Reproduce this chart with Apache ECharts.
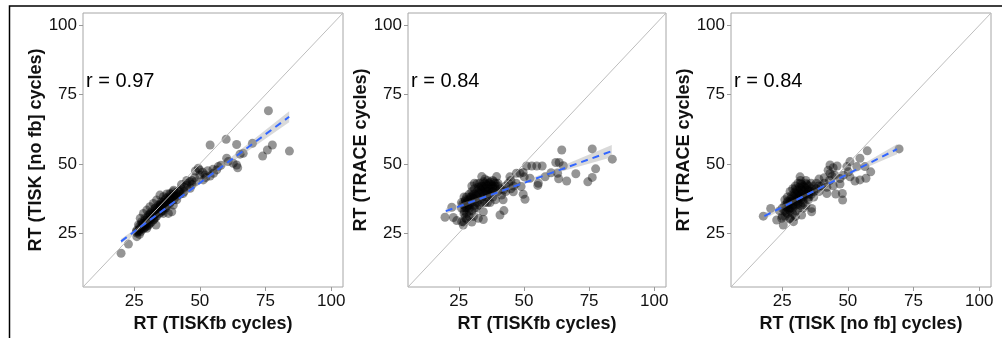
<!DOCTYPE html>
<html><head><meta charset="utf-8">
<script src="https://cdn.jsdelivr.net/npm/echarts@6/dist/echarts.min.js"></script>
<style>html,body{margin:0;padding:0;background:#fff}#c{width:1002px;height:338px}</style>
</head><body><div id="c"></div>
<script>
// ---- data ----
const axisRange = [5.5, 104.5];
const tickValues = [25, 50, 75, 100];
const xTitles = ['RT (TISKfb cycles)', 'RT (TISKfb cycles)', 'RT (TISK [no fb] cycles)'];
const yTitles = ['RT (TISK [no fb] cycles)', 'RT (TRACE cycles)', 'RT (TRACE cycles)'];
const rLabels = ['r = 0.97', 'r = 0.84', 'r = 0.84'];

// panel 1: TISKfb (x) vs TISK no fb (y)
const tiskfbVsTisk = [
[20.0,17.7],[22.8,21.0],[25.8,25.5],[26.0,23.7],[76.1,69.2],[60.0,58.9],[53.9,56.8],[64.0,57.0],[70.0,57.4],[77.6,56.8],
[75.7,55.0],[73.9,52.8],[84.1,54.6],[66.5,53.8],[65.3,53.5],[60.2,52.0],[60.8,50.8],[62.7,50.2],[64.0,49.6],[64.4,48.6],
[56.4,47.8],[55.2,46.6],[53.9,45.6],[49.4,48.4],[49.9,47.8],[48.3,47.4],[51.3,44.2],[52.3,45.1],[48.2,43.5],[46.2,43.5],
[45.0,43.0],[46.3,41.2],[45.0,42.2],[42.4,40.5],[43.6,39.3],[40.9,38.1],[38.6,37.5],[41.2,37.0],[39.9,35.1],[38.0,32.1],
[36.1,32.1],[39.3,32.7],[34.8,34.5],[33.3,27.9],[31.0,31.5],[28.5,28.5],[27.3,26.7],[29.8,26.7],[32.3,29.7],
[36.7,36.9],[35.4,36.3],[34.2,35.1],[32.9,33.9],[31.6,32.7],[30.4,31.5],[29.1,30.3],[27.8,29.1],[26.6,27.9],[34.8,38.7],
[36.1,38.1],[37.4,39.1],[38.6,39.3],[39.9,39.9],[33.5,36.9],[32.3,35.7],[31.0,34.5],[29.8,33.3],[28.5,32.1],[27.3,30.3],
[38.6,35.7],[26.0,25.0],[27.0,26.0],[27.5,27.0],[28.0,26.5],[28.5,27.5],[29.0,28.0],[29.5,29.0],[30.0,28.5],[30.5,29.5],
[31.0,30.0],[31.5,30.5],[32.0,31.0],[32.5,31.5],[33.0,32.0],[33.5,32.5],[34.0,33.0],[34.5,33.5],[35.0,34.0],[35.5,34.5],
[36.0,35.0],[36.5,35.5],[37.0,36.0],[37.5,36.5],[38.0,37.0],[39.0,38.0],[40.0,38.5],[41.0,39.5],[42.0,40.0],[43.0,41.0],
[44.0,41.5],[47.0,44.0],[48.0,45.0],[50.0,46.0],[51.0,47.0],[52.0,46.0],[53.0,47.5],[55.0,48.0],[57.0,49.0],[58.0,49.5],
[47.0,42.5],[44.0,40.0],[36.0,33.0],[35.0,32.5],[37.0,34.0],[33.0,30.5],[30.0,27.5],[29.0,27.0],[31.0,28.5],[26.0,26.0],
[27.0,24.5],[45.0,44.0],[43.0,42.5],[40.0,40.5],[37.0,37.5],[39.0,39.0],[35.0,35.5],[33.0,34.0],[30.0,30.5],[28.0,28.5],
[26.5,25.5],[27.5,25.5],[28.5,26.5],[29.5,27.5],[30.5,28.0],[31.5,29.0],[32.5,30.0],[33.5,31.0],[34.5,32.0],[35.5,33.0],
[36.5,34.0],[37.5,35.0],[38.5,36.0],[39.5,37.0],[40.5,38.0],[41.5,38.5],[42.5,39.0],[30.0,29.5],[32.0,32.0],[34.0,34.0],
[36.0,36.0],[38.0,38.0],[31.0,32.0],[33.0,33.0],[35.0,35.0],[37.0,35.5],[29.0,29.5],[27.0,27.5],[40.0,37.0],[41.0,38.5]
];

// panel 2: TISKfb (x) vs TRACE (y)
const tiskfbVsTrace = [
[64.5,55.0],[76.2,55.4],[83.9,51.7],[69.9,46.4],[77.5,48.2],[74.5,43.5],[76.2,45.1],[66.4,43.8],[63.3,44.6],[62.9,46.6],
[62.2,50.5],[63.5,50.5],[65.1,49.3],[60.4,46.8],[58.1,45.3],[55.5,43.0],[55.3,42.2],[57.0,49.2],[54.9,49.2],[53.0,49.2],
[51.0,49.2],[49.7,46.9],[48.5,46.6],[50.1,45.3],[52.3,44.8],[50.4,37.2],[49.7,39.0],[48.9,41.8],[45.9,39.9],[42.1,40.5],
[41.4,38.7],[42.3,33.1],[40.8,31.5],[34.4,32.7],[32.5,30.3],[34.4,29.9],[30.6,31.0],[27.4,30.6],[26.1,29.1],[26.7,27.9],
[24.2,29.5],[22.9,30.6],[19.7,30.7],[22.3,34.3],[27.0,32.0],[33.8,45.4],[39.5,45.4],[37.1,43.4],[32.0,42.8],[44.6,45.3],
[47.1,46.6],[27,35],[28,36],[28,38],[29,37],[29,39],[30,36],[30,38],[30,40],[31,37],[31,39],[31,41],[32,36],[32,38],
[32,40],[33,37],[33,39],[33,41],[33,43],[34,38],[34,40],[34,42],[35,39],[35,41],[35,43],[36,38],[36,40],[36,42],[37,39],
[37,41],[38,40],[38,42],[38,44],[39,41],[39,43],[40,40],[40,42],[27,33],[28,34],[29,34],[26,36],[27,38],[26,34],[28,32],
[29,31],[30,33],[31,34],[32,34],[33,35],[35,36],[36,36],[41,41],[43,42],[44,43],[45,44],[46,42],[47,43],[45,41],[43,40],
[42,37],[38,38],[39,37],[28,30],[27,29],[30,29],[31,35],[37,36],[29,35],[34,36],[36,44],[35,44.5],[31,43],[30,42],
[27.5,36.5],[28.5,37],[29.5,36],[30.5,37.5],[31.5,38.5],[32.5,39.5],[33.5,40.5],[34.5,41.5],[35.5,42.5],[36.5,43],
[37.5,42.5],[38.5,43.5],[34.5,43.5],[33.5,42],[32.5,41.5],[36.5,41],[37.5,40],[35.5,40],[34.5,39],[28.5,35],
[27.5,34],[29.5,38],[30.5,39],[26.5,35.5],[27.5,37],[29,33],[36,39],[38,41],[39,42],[40,43]
];

// panel 3: TISK no fb (x) vs TRACE (y)
const tiskVsTrace = [
[69.5,55.4],[57.4,54.7],[54.6,52.0],[50.8,50.8],[49.6,49.0],[43.2,49.6],[44.4,48.6],[45.9,49.2],[53.4,49.0],[56.5,49.0],
[58.7,47.1],[56.9,44.8],[54.6,44.2],[52.7,43.8],[50.8,45.3],[48.3,45.9],[50.2,47.1],[47.0,44.7],[45.1,45.9],[43.2,46.5],
[42.5,47.7],[42.0,39.3],[45.4,39.1],[47.9,39.3],[48.0,36.9],[47.0,42.7],[44.4,42.1],[42.0,41.5],[36.2,32.7],[36.2,33.9],
[32.4,31.5],[28.0,30.3],[25.4,27.9],[22.9,29.7],[24.8,30.3],[20.6,33.9],[17.8,31.1],[29.3,29.1],[31.8,45.3],[34.9,40.5],
[25,34],[26,35],[26,33],[27,34],[27,36],[28,35],[28,37],[28,33],[29,36],[29,38],[29,34],[30,37],[30,39],[30,35],[31,38],
[31,40],[31,36],[32,39],[32,41],[32,37],[33,40],[33,42],[33,38],[34,41],[34,43],[34,39],[35,42],[35,40],[36,41],[36,43],
[37,42],[37,40],[38,41],[38,43],[39,42],[27,32],[26,31],[29,32],[30,33],[31,34],[32,35],[33,36],[35,38],[36,39],[31,43],
[30,42],[29,41],[28,40],[32,44],[26,37],[27,38],[24,33],[25,31],[35,37],[37,38],[40,42],[41,43],[39,40],[28,30],[30,31],
[33,34],[34,35],[43,44],[44,45.5],[41,45],[39,44.5],
[26.5,34.5],[27.5,35.5],[28.5,36.5],[29.5,37.5],[30.5,38.5],[31.5,39.5],[32.5,40.5],[33.5,41.5],[34.5,42.5],[30.5,40.5],
[31.5,41.5],[32.5,42.5],[29.5,39.5],[28.5,38.5],[30.5,36.5],[31.5,37.5],[32.5,38],[33.5,39],[27.5,33.5],[26.5,32.5],
[29,35],[31,35.5],[33,37],[35,39],[36,40],[32,43],[30,41],[34,44],[28,34],[27,36.5]
];

// regression (geom_smooth) lines: endpoints [x, y]
const fitLines = [
  [[20.0, 22.0], [84.0, 67.0]],
  [[20.0, 32.9], [83.7, 54.6]],
  [[18.2, 31.1], [68.7, 55.3]]
];
// confidence bands: [x, lower, upper]
const fitBands = [
  [[20, 21.2, 22.8], [35, 32.1, 32.9], [50, 42.6, 43.6], [65, 52.5, 54.7], [84, 65.0, 69.0]],
  [[20, 31.9, 33.9], [35, 37.6, 38.6], [50, 42.7, 43.7], [65, 47.4, 49.4], [83.7, 52.4, 56.8]],
  [[18.2, 30.0, 32.2], [30, 36.3, 37.3], [42, 42.2, 42.9], [55, 47.9, 49.5], [68.7, 53.5, 57.1]]
];
const panelPoints = [tiskfbVsTisk, tiskfbVsTrace, tiskVsTrace];

// ---- layout ----
const gridLefts = [83, 408, 731];
const gridWidths = [260, 258, 260];
const FONT = 'Liberation Sans, Arial, sans-serif';

const chart = echarts.init(document.getElementById('c'), null, {renderer: 'canvas'});
const grids = [], xAxes = [], yAxes = [], series = [], graphics = [];

for (let i = 0; i < 3; i++) {
  grids.push({left: gridLefts[i], top: 13, width: gridWidths[i], height: 274,
    show: true, borderColor: '#a6a6a6', borderWidth: 1, backgroundColor: '#fff'});
  const common = {
    type: 'value', gridIndex: i, min: axisRange[0], max: axisRange[1],
    axisLine: {show: false}, splitLine: {show: false},
    axisTick: {show: true, length: 4, lineStyle: {color: '#999'}, customValues: tickValues},
    nameTextStyle: {fontFamily: FONT, fontSize: 18, fontWeight: 'bold', color: '#111'},
    nameLocation: 'middle'
  };
  xAxes.push(Object.assign({}, common, {
    name: xTitles[i], nameGap: 27,
    axisLabel: {customValues: tickValues, fontFamily: FONT, fontSize: 17, color: '#111', margin: 6}
  }));
  yAxes.push(Object.assign({}, common, {
    name: yTitles[i], nameGap: 38,
    axisLabel: {customValues: tickValues, fontFamily: FONT, fontSize: 17, color: '#111', margin: 6}
  }));

  series.push({type: 'scatter', xAxisIndex: i, yAxisIndex: i, data: panelPoints[i],
    symbolSize: 9, itemStyle: {color: 'rgba(0,0,0,0.52)'}, z: 2, silent: true});

  const band = fitBands[i];
  series.push({type: 'custom', xAxisIndex: i, yAxisIndex: i, data: band,
    encode: {x: 0, y: [1, 2]}, z: 3, silent: true,
    renderItem: function (params, api) {
      if (params.dataIndex !== 0) return null;
      const pts = [];
      for (let k = 0; k < band.length; k++) pts.push(api.coord([band[k][0], band[k][2]]));
      for (let k = band.length - 1; k >= 0; k--) pts.push(api.coord([band[k][0], band[k][1]]));
      return {type: 'polygon', shape: {points: pts}, style: {fill: 'rgba(160,160,160,0.4)'}};
    }});

  series.push({type: 'line', xAxisIndex: i, yAxisIndex: i,
    data: [[axisRange[0], axisRange[0]], [axisRange[1], axisRange[1]]],
    showSymbol: false, lineStyle: {color: '#bdbdbd', width: 1}, z: 4, silent: true});

  series.push({type: 'line', xAxisIndex: i, yAxisIndex: i, data: fitLines[i],
    showSymbol: false, lineStyle: {color: '#3366FF', width: 2, type: [7, 5]}, z: 5, silent: true});

  graphics.push({type: 'text', left: gridLefts[i] + 3, top: 71,
    style: {text: rLabels[i], font: '20px ' + FONT, fill: '#000'}});
}

graphics.push({type: 'rect', shape: {x: 9.5, y: 6, width: 2000, height: 2000},
  style: {fill: 'none', stroke: '#000', lineWidth: 1.5}, z: 100});

chart.setOption({
  animation: false,
  grid: grids, xAxis: xAxes, yAxis: yAxes, series: series, graphic: graphics
});
</script></body></html>
